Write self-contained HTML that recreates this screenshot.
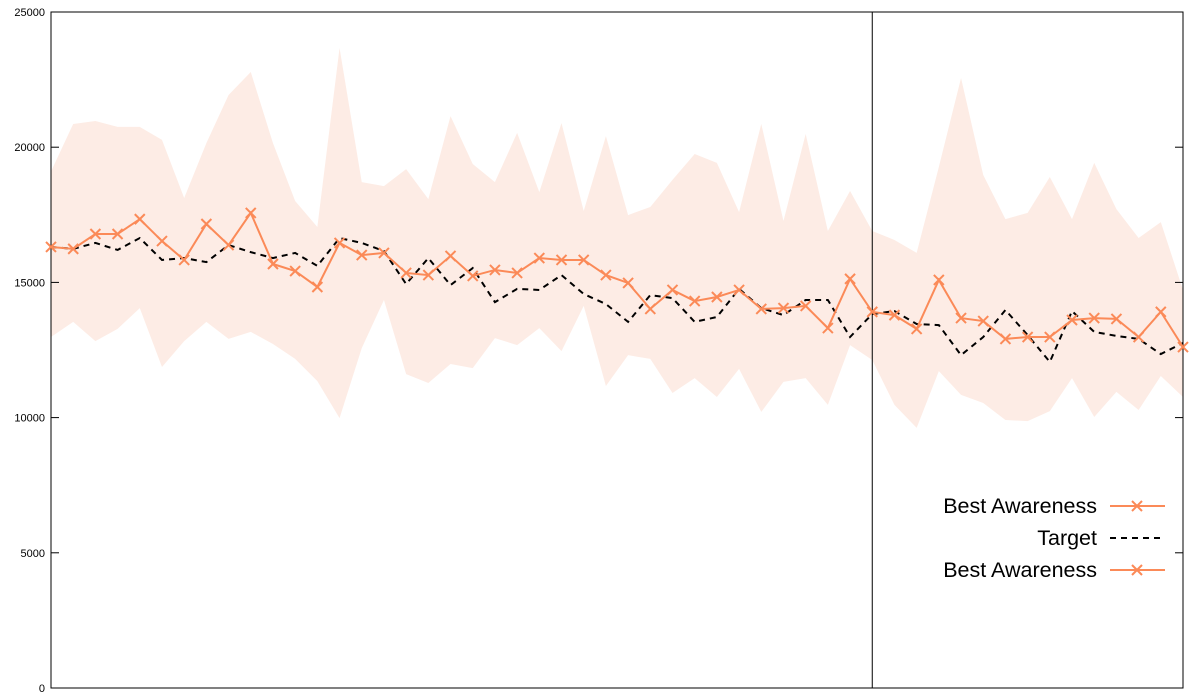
<!DOCTYPE html>
<html><head><meta charset="utf-8"><style>
html,body{margin:0;padding:0;background:#fff;width:1200px;height:700px;overflow:hidden}
svg{display:block;font-family:"Liberation Sans",sans-serif}
</style></head><body>
<svg id="chart" width="1200" height="700"></svg>
<script>
const yTicks=[0,5000,10000,15000,20000,25000];
const tickLabels=["0","5000","10000","15000","20000","25000"];
const bestAwareness=[16310,16240,16790,16790,17340,16530,15830,17160,16380,17570,15680,15420,14830,16460,16010,16090,15350,15270,15980,15240,15460,15350,15900,15830,15830,15270,14980,14020,14720,14310,14460,14720,14020,14050,14130,13310,15130,13910,13790,13280,15090,13680,13570,12910,12980,12980,13610,13680,13650,12980,13910,12610];
const target=[16310,16240,16460,16200,16640,15830,15900,15750,16380,16120,15900,16090,15610,16640,16460,16160,14940,15900,14900,15530,14270,14760,14720,15270,14570,14200,13540,14530,14420,13540,13720,14760,14050,13790,14350,14350,12980,13830,13940,13460,13420,12310,12980,13980,13050,12060,13940,13170,13020,12910,12350,12760];
const bandUpper=[19100,20860,20970,20750,20750,20270,18120,20150,21930,22780,20150,18010,17050,23670,18710,18560,19190,18080,21150,19380,18710,20530,18340,20890,17640,20410,17490,17790,18790,19750,19420,17600,20860,17270,20490,16900,18380,16900,16570,16090,19270,22560,18970,17340,17570,18900,17340,19420,17710,16640,17230,14720];
const bandLower=[12980,13540,12830,13280,14050,11870,12830,13540,12910,13170,12720,12170,11350,9980,12570,14350,11610,11280,11980,11830,12940,12680,13310,12460,14130,11170,12310,12170,10910,11460,10760,11800,10210,11320,11460,10470,12680,12130,10470,9620,11720,10840,10540,9910,9870,10240,11460,10020,10950,10280,11540,10760];
const splitIndex=37;
const legendLabels=["Best Awareness","Target","Best Awareness"];

const L=51,R=1183,T=12,B=688,YMAX=25000;
const N=bestAwareness.length;
const xs=i=>L+i*(R-L)/(N-1);
const ys=v=>B-v/YMAX*(B-T);
const NS="http://www.w3.org/2000/svg";
const svg=document.getElementById('chart');
function mk(tag,attrs,parent){const e=document.createElementNS(NS,tag);for(const k in attrs)e.setAttribute(k,attrs[k]);(parent||svg).appendChild(e);return e;}

let pts=[];
for(let i=0;i<N;i++)pts.push(xs(i)+','+ys(bandUpper[i]));
for(let i=N-1;i>=0;i--)pts.push(xs(i)+','+ys(bandLower[i]));
const band=mk('polygon',{points:pts.join(' '),fill:'#fdece5'});



const frame=mk('rect',{x:L,y:T,width:R-L,height:B-T,fill:'none',stroke:'#000','stroke-width':1});



yTicks.forEach((t,i)=>{
  const y=ys(t);
  mk('line',{x1:L,x2:L+8,y1:y,y2:y,stroke:'#000'});
  mk('line',{x1:R-8,x2:R,y1:y,y2:y,stroke:'#000'});
  const tx=mk('text',{x:L-6,y:y+4,'text-anchor':'end','font-size':'11',fill:'#000'});
  tx.textContent=tickLabels[i];
  
  
});

const vl=mk('line',{x1:xs(splitIndex),x2:xs(splitIndex),y1:T,y2:B,stroke:'#000','stroke-width':1});



const tl=mk('polyline',{points:target.map((v,i)=>xs(i)+','+ys(v)).join(' '),fill:'none',stroke:'#000','stroke-width':2,'stroke-dasharray':'6,5'});



const col='#fb8a58';
const bl=mk('polyline',{points:bestAwareness.map((v,i)=>xs(i)+','+ys(v)).join(' '),fill:'none',stroke:col,'stroke-width':2});


function cross(x,y,parent){
  const g=mk('g',{},parent);
  mk('line',{x1:x-5,y1:y-5,x2:x+5,y2:y+5,stroke:col,'stroke-width':2},g);
  mk('line',{x1:x-5,y1:y+5,x2:x+5,y2:y-5,stroke:col,'stroke-width':2},g);
  return g;
}
bestAwareness.forEach((v,i)=>{
  const g=cross(xs(i),ys(v));
  
  
});

const ly=[506,538,570];
legendLabels.forEach((lab,i)=>{
  const g=mk('g',{});
  
  
  const t=mk('text',{x:1097,y:ly[i]+7,'text-anchor':'end','font-size':'21.5',fill:'#000'},g);
  t.textContent=lab;
  if(i===1){
    mk('line',{x1:1110,x2:1165,y1:ly[i],y2:ly[i],stroke:'#000','stroke-width':2,'stroke-dasharray':'6,5'},g);
  }else{
    mk('line',{x1:1110,x2:1165,y1:ly[i],y2:ly[i],stroke:col,'stroke-width':2},g);
    cross(1137,ly[i],g);
  }
});
</script>
</body></html>
